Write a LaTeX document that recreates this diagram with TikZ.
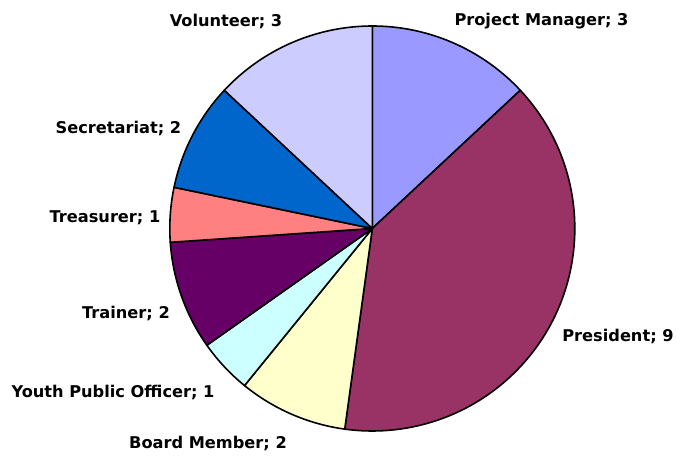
\documentclass[tikz,border=0pt]{standalone}
\usepackage{fontspec}
\setmainfont{DejaVu Sans}
\definecolor{cPM}{HTML}{9999FF}
\definecolor{cPres}{HTML}{993366}
\definecolor{cBoard}{HTML}{FFFFCC}
\definecolor{cYouth}{HTML}{CCFFFF}
\definecolor{cTrain}{HTML}{660066}
\definecolor{cTreas}{HTML}{FF8080}
\definecolor{cSecr}{HTML}{0066CC}
\definecolor{cVol}{HTML}{CCCCFF}
\tikzset{
  slice/.style={draw=black, line width=1.6pt, line join=round},
  lbl/.style={font=\bfseries\fontsize{16.2}{18}\selectfont, inner sep=0pt, anchor=base}
}
\newcommand{\pieslice}[3]{%
  \filldraw[slice, fill=#3] (372.3,226.5) -- ++(#1:202.5) arc[start angle=#1, end angle=#2, radius=202.5] -- cycle;}
\begin{document}
\begin{tikzpicture}[x=1pt,y=1pt]
\useasboundingbox (0,0) rectangle (676,455);
\coordinate (c) at (372.3,226.5);
\pieslice{90}{43.043}{cPM}
\pieslice{43.043}{-97.826}{cPres}
\pieslice{-97.826}{-129.130}{cBoard}
\pieslice{-129.130}{-144.783}{cYouth}
\pieslice{-144.783}{-176.087}{cTrain}
\pieslice{-176.087}{-191.739}{cTreas}
\pieslice{-191.739}{-223.043}{cSecr}
\pieslice{-223.043}{-270}{cVol}
\node[lbl] (pm) at (541.5,429) {Project Manager; 3};
\node[lbl] (pres) at (618,114) {President; 9};
\node[lbl] (board) at (208,7) {Board Member; 2};
\node[lbl] (youth) at (113,58) {Youth Public Officer; 1};
\node[lbl] (train) at (126,137) {Trainer; 2};
\node[lbl] (treas) at (105,232) {Treasurer; 1};
\node[lbl] (secr) at (118.5,321) {Secretariat; 2};
\node[lbl] (vol) at (226,428) {Volunteer; 3};
\end{tikzpicture}
\end{document}
